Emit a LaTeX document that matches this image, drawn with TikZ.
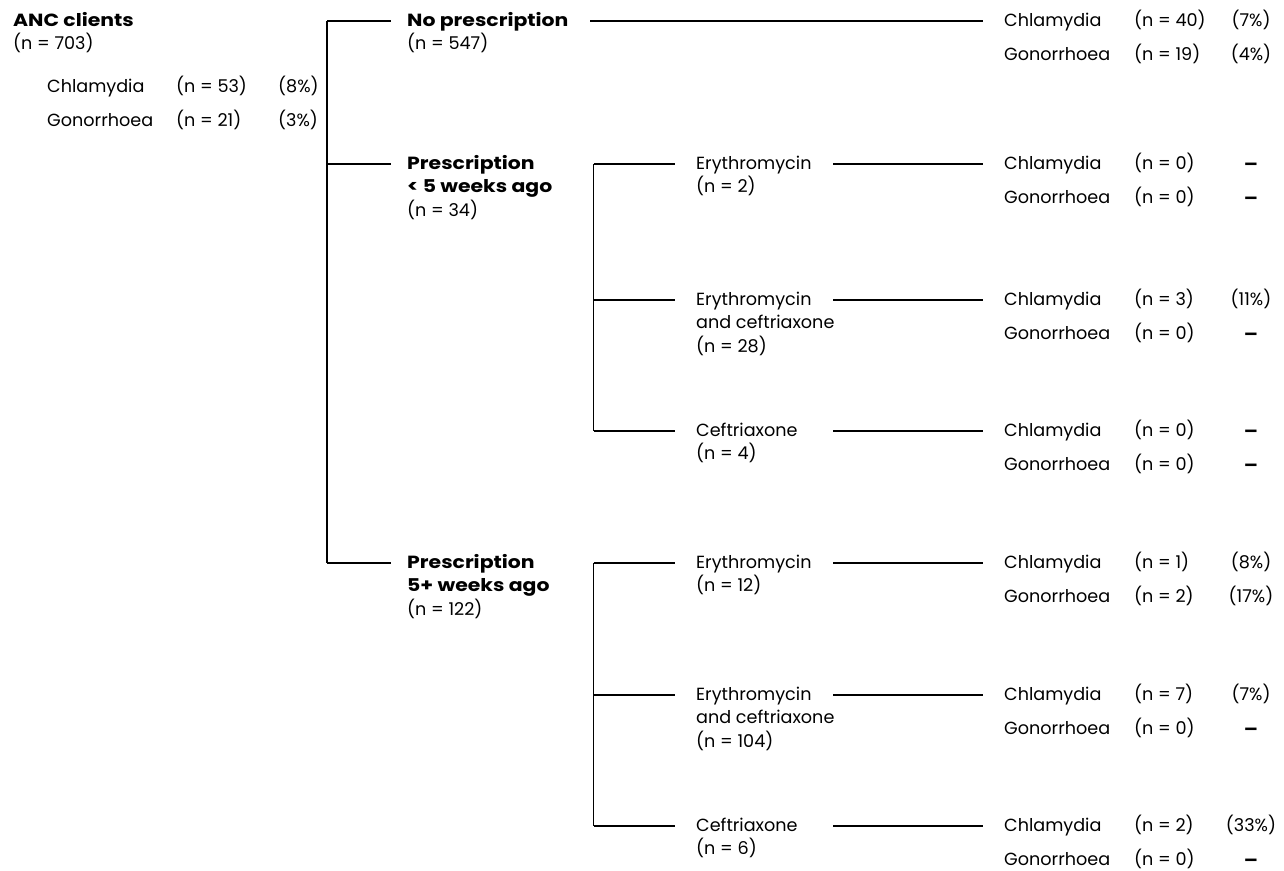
\documentclass[tikz,border=0pt]{standalone}
\usepackage{fontspec}
\setmainfont{Poppins}[BoldFeatures={FakeStretch=1.16}]
\newcommand\nodash{\raisebox{-1pt}[0pt][0pt]{\textbf{–}}}
\newcommand\stk[1]{\vtop{\halign{##\hfil\cr#1\crcr}}}
\begin{document}
\begin{tikzpicture}[x=1pt,y=-1pt,
  txt/.style={inner sep=0pt, font=\fontsize{17.6}{23.5}\selectfont},
  lbl/.style={txt, anchor=base west},
  pct/.style={txt, anchor=base},
  conn/.style={line width=1.2pt, line cap=butt}]
\useasboundingbox (0,0) rectangle (1284,870);

% root
\node[lbl] (anc) at (13,26) {\stk{\textbf{ANC clients}\cr(n = 703)}};
\node[lbl] (ancC)  at (47,92)  {Chlamydia};
\node[lbl] (ancCn) at (176,92) {(n = 53)};
\node[lbl] (ancCp) at (278,92) {(8\%)};
\node[lbl] (ancG)  at (47,126)  {Gonorrhoea};
\node[lbl] (ancGn) at (176,126) {(n = 21)};
\node[lbl] (ancGp) at (278,126) {(3\%)};

% main bracket
\coordinate (m0) at (327,21);
\coordinate (m1) at (327,164);
\coordinate (m2) at (327,563);
\node[lbl] (g0) at (407,26)  {\stk{\textbf{No prescription}\cr(n = 547)}};
\node[lbl] (g1) at (407,169) {\stk{\textbf{Prescription}\cr\textbf{< 5 weeks ago}\cr(n = 34)}};
\node[lbl] (g2) at (407,568) {\stk{\textbf{Prescription}\cr\textbf{5+ weeks ago}\cr(n = 122)}};
\draw[conn] (m0) -- (m2);
\foreach \k in {0,1,2}
  \draw[conn] (m\k) -- ([xshift=-16pt]g\k.base west |- m\k);

% sub brackets
\coordinate (s1) at (593.5,164);
\coordinate (s2) at (593.5,300);
\coordinate (s3) at (593.5,431);
\coordinate (s4) at (593.5,563);
\coordinate (s5) at (593.5,695);
\coordinate (s6) at (593.5,826);
\node[lbl] (t1) at (696,169) {\stk{Erythromycin\cr(n = 2)}};
\node[lbl] (t2) at (696,305) {\stk{Erythromycin\cr and ceftriaxone\cr(n = 28)}};
\node[lbl] (t3) at (696,436) {\stk{Ceftriaxone\cr(n = 4)}};
\node[lbl] (t4) at (696,568) {\stk{Erythromycin\cr(n = 12)}};
\node[lbl] (t5) at (696,700) {\stk{Erythromycin\cr and ceftriaxone\cr(n = 104)}};
\node[lbl] (t6) at (696,831) {\stk{Ceftriaxone\cr(n = 6)}};
\draw[conn] (s1) -- (s3);
\draw[conn] (s4) -- (s6);
\foreach \k in {1,...,6}
  \draw[conn] (s\k) -- ([xshift=-21pt]t\k.base west |- s\k);

% outcome rows
\foreach \i/\sx/\y/\cn/\cp/\gn/\gp in {
  0/590/21/40/(7\%)/19/(4\%),
  1/833/164/0/\nodash/0/\nodash,
  2/833/300/3/(11\%)/0/\nodash,
  3/833/431/0/\nodash/0/\nodash,
  4/833/563/1/(8\%)/2/(17\%),
  5/833/695/7/(7\%)/0/\nodash,
  6/833/826/2/(33\%)/0/\nodash}{
  \coordinate (r\i) at (\sx,\y);
  \node[lbl] (c\i)  at (1004,\y+5) {Chlamydia};
  \node[lbl] (cn\i) at (1134,\y+5) {(n = \cn)};
  \node[pct] (cp\i) at (1251,\y+5) {\cp};
  \node[lbl] (o\i)  at (1004,\y+39) {Gonorrhoea};
  \node[lbl] (on\i) at (1134,\y+39) {(n = \gn)};
  \node[pct] (op\i) at (1251,\y+39) {\gp};
  \draw[conn] (r\i) -- ([xshift=-21pt]c\i.base west |- r\i);
}
\end{tikzpicture}
\end{document}
